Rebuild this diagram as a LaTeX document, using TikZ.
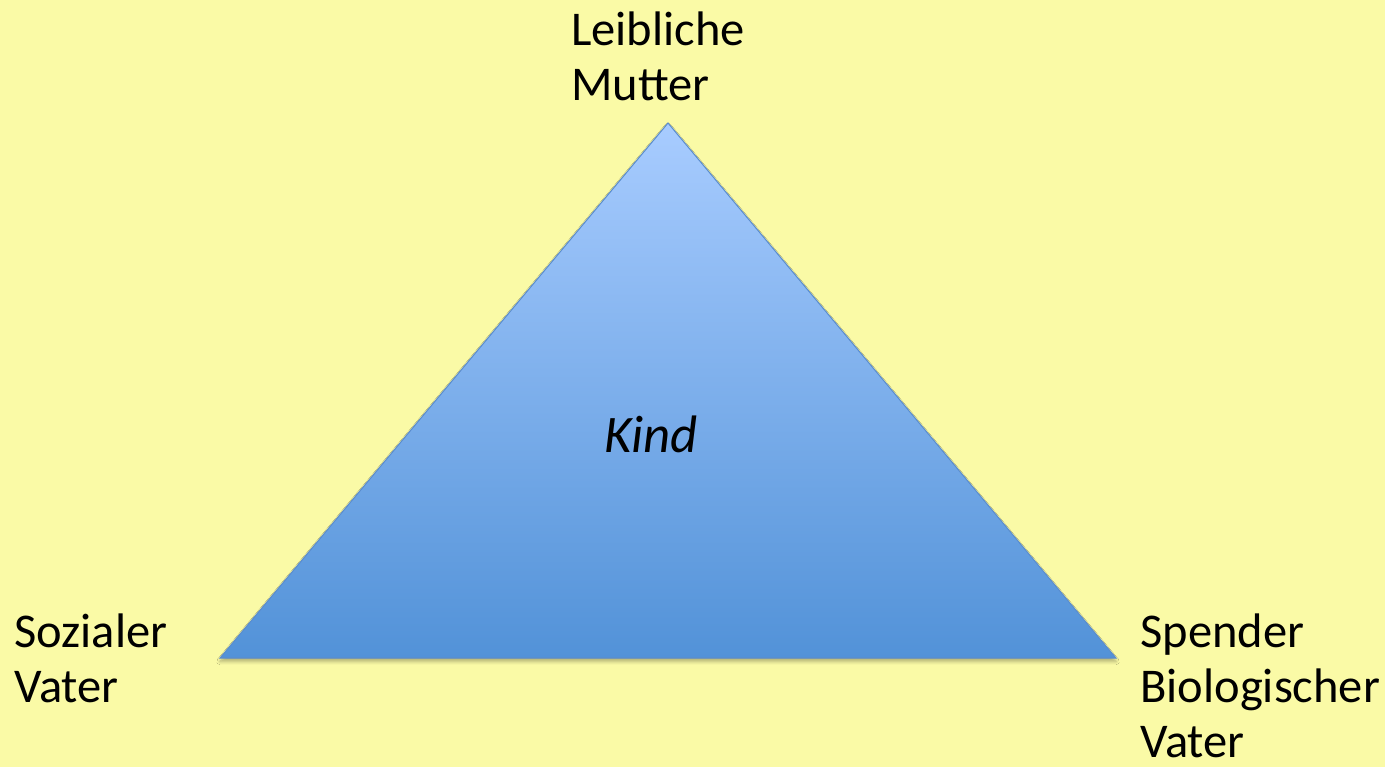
\documentclass[tikz,border=0pt]{standalone}
\usepackage{fontspec}
\setmainfont{Carlito}
\usetikzlibrary{shadows.blur}

\definecolor{bgyellow}{RGB}{250,250,166}
\definecolor{tritop}{RGB}{168,204,255}
\definecolor{tribottom}{RGB}{82,146,216}
\definecolor{triedge}{RGB}{90,140,205}

\begin{document}
\begin{tikzpicture}[x=0.02cm, y=-0.02cm,
    lbl/.style={anchor=base west, inner sep=0, align=left, font=\fontsize{27.6}{31.3}\selectfont}]

    \fill[bgyellow] (0,0) rectangle (1385,767);
    \useasboundingbox (0,0) rectangle (1385,767);

    \coordinate (M) at (668, 123);
    \coordinate (S) at (220, 658);
    \coordinate (B) at (1116, 658);

    \shade[top color=tritop, bottom color=tribottom, draw=triedge, line width=0.6pt,
        blur shadow={shadow xshift=0pt, shadow yshift=-0.07cm, shadow blur steps=6, shadow opacity=30}]
        (M) -- (B) -- (S) -- cycle;

    % base anchor sits on the last line
    \node[lbl] (mutter) at (571, 100) {Leibliche\\Mutter};
    \node[lbl] (sozial) at (14, 702) {Sozialer\\Vater};
    \node[lbl] (spender) at (1140, 757) {Spender\\Biologischer\\Vater};
    \node[lbl, anchor=base, font=\fontsize{30}{36}\selectfont\itshape] (kind) at (651, 452) {Kind};

\end{tikzpicture}
\end{document}
